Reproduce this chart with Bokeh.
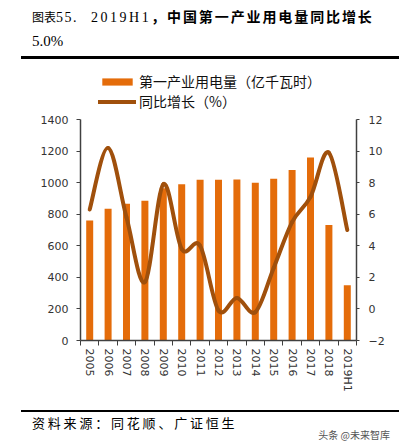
from bokeh.plotting import figure
from bokeh.models import (Range1d, LinearAxis, FixedTicker, Legend, LegendItem, Div)
from bokeh.layouts import column
from bokeh.embed import file_html
from bokeh.resources import INLINE

# ---------------- data ----------------
categories = ["2005", "2006", "2007", "2008", "2009", "2010", "2011", "2012",
              "2013", "2014", "2015", "2016", "2017", "2018", "2019H1"]
consumption = [760, 835, 866, 885, 965, 990, 1018, 1018, 1020, 1000, 1024, 1080, 1160, 732, 350]
growth = [6.3, 10.2, 5.8, 1.7, 7.9, 3.8, 4.0, -0.1, 0.7, -0.2, 2.6, 5.5, 7.1, 9.9, 5.0]
left_ticks = [0, 200, 400, 600, 800, 1000, 1200, 1400]
right_ticks = [-2, 0, 2, 4, 6, 8, 10, 12]
bar_label = "第一产业用电量（亿千瓦时）"
line_label = "同比增长（%）"
title_cn_a = "图表"
title_num_a = "55. "
title_num_b = "2019H1"
title_cn_b = "，中国第一产业用电量同比增长"
title_line2 = "5.0%"
source_text = "资料来源：同花顺、广证恒生"
watermark = "头条 @未来智库"

BAR = "#E46C0A"
LINE = "#A0500C"
AX = "#404040"
CJK = "Noto Sans CJK SC"

xs = list(range(len(categories)))

# layout geometry: axis spans AXIS_PX pixels, frame is taller to host the legend
AXIS_PX = 221
FRAME_PX = 276
left_lo, left_hi = left_ticks[0], left_ticks[-1]
right_lo, right_hi = right_ticks[0], right_ticks[-1]
left_end = left_lo + (left_hi - left_lo) * FRAME_PX / AXIS_PX
right_end = right_lo + (right_hi - right_lo) * FRAME_PX / AXIS_PX

# ---------------- title div ----------------
title_html = f"""
<div style="white-space:nowrap;color:#000;width:378px;">
  <div style="padding-left:11px;padding-top:7px;line-height:18px;height:25px;"><span style="font-family:'{CJK}';font-size:12px;">{title_cn_a}</span><span style="font-family:'Liberation Serif';font-size:14px;letter-spacing:1.5px;">{title_num_a}</span><span style="font-family:'Liberation Serif';font-size:14px;letter-spacing:2.5px;margin-left:8px;">{title_num_b}</span><span style="font-family:'{CJK}';font-weight:bold;font-size:14px;letter-spacing:1.9px;">{title_cn_b}</span></div>
  <div style="padding-left:11px;margin-top:7px;line-height:18px;height:18px;font-family:'Liberation Serif';font-size:15px;">{title_line2}</div>
</div>
"""
title_div = Div(text=title_html, width=378, height=59, margin=(0, 0, 0, 21),
                styles={"border-bottom": "3px solid #000", "box-sizing": "border-box"})

# ---------------- figure ----------------
p = figure(width=399, height=341, output_backend="svg", toolbar_location=None,
           x_range=Range1d(-0.5, 14.5), y_range=Range1d(left_lo, left_end),
           min_border_left=80, min_border_right=43, min_border_top=5, min_border_bottom=60)
p.outline_line_color = None
p.xgrid.visible = False
p.ygrid.visible = False
p.background_fill_color = "white"
p.border_fill_color = "white"

p.extra_y_ranges = {"right": Range1d(right_lo, right_end)}

bars = p.vbar(x=xs, top=consumption, width=0.38, color=BAR, line_color=None)

# smooth curve (Catmull-Rom -> cubic Bezier), drawn through the data points
n = len(growth)
x0, y0, x1, y1, cx0, cy0, cx1, cy1 = [], [], [], [], [], [], [], []
for i in range(n - 1):
    pm = (xs[i - 1], growth[i - 1]) if i > 0 else (xs[i], growth[i])
    pa = (xs[i], growth[i])
    pb = (xs[i + 1], growth[i + 1])
    pn = (xs[i + 2], growth[i + 2]) if i + 2 < n else (xs[i + 1], growth[i + 1])
    x0.append(pa[0]); y0.append(pa[1]); x1.append(pb[0]); y1.append(pb[1])
    cx0.append(pa[0] + (pb[0] - pm[0]) / 6.0); cy0.append(pa[1] + (pb[1] - pm[1]) / 6.0)
    cx1.append(pb[0] - (pn[0] - pa[0]) / 6.0); cy1.append(pb[1] - (pn[1] - pa[1]) / 6.0)
curve = p.bezier(x0=x0, y0=y0, x1=x1, y1=y1, cx0=cx0, cy0=cy0, cx1=cx1, cy1=cy1,
                 y_range_name="right", line_color=LINE, line_width=4, line_cap="round")

# axes
xa = p.xaxis[0]
xa.ticker = FixedTicker(ticks=xs, minor_ticks=[i - 0.5 for i in range(len(categories) + 1)])
xa.major_label_overrides = {i: c for i, c in enumerate(categories)}
xa.major_label_orientation = "vertical"
xa.major_tick_out = 0
xa.major_tick_in = 0
xa.minor_tick_out = 5
xa.minor_tick_in = 0
xa.minor_tick_line_color = AX
xa.axis_line_color = AX
xa.axis_line_width = 1.5
xa.major_label_standoff = 3
xa.major_label_text_font = "DejaVu Sans"
xa.major_label_text_font_size = "11px"
xa.major_label_text_color = "#333333"

ya = p.yaxis[0]
ya.ticker = FixedTicker(ticks=left_ticks)
ya.bounds = (left_lo, left_hi)
ya.minor_tick_line_color = None
ya.major_tick_out = 4
ya.major_tick_in = 0
ya.major_tick_line_color = AX
ya.axis_line_color = AX
ya.axis_line_width = 1.5
ya.major_label_standoff = 8
ya.major_label_text_font = "DejaVu Sans"
ya.major_label_text_font_size = "11px"
ya.major_label_text_color = "#333333"

ra = LinearAxis(y_range_name="right", ticker=FixedTicker(ticks=right_ticks),
                bounds=(right_lo, right_hi))
ra.minor_tick_line_color = None
ra.major_tick_out = 3
ra.major_tick_in = 0
ra.major_tick_line_color = AX
ra.axis_line_color = AX
ra.axis_line_width = 1.5
ra.major_label_standoff = 9
ra.major_label_text_font = "DejaVu Sans"
ra.major_label_text_font_size = "11px"
ra.major_label_text_color = "#333333"
p.add_layout(ra, "right")

legend = Legend(items=[LegendItem(label=bar_label, renderers=[bars]),
                       LegendItem(label=line_label, renderers=[curve])],
                location=(18, 229), orientation="vertical",
                glyph_width=38, glyph_height=9, label_height=17, spacing=-2,
                label_standoff=3, padding=0, margin=0,
                border_line_color=None, background_fill_alpha=0,
                label_text_font=CJK, label_text_font_size="14px",
                label_text_line_height=1.0,
                label_text_color="#111111")
p.add_layout(legend, "center")

# ---------------- source div ----------------
source_html = f"""
<div style="white-space:nowrap;width:378px;">
  <div style="padding-left:11px;padding-top:2px;line-height:17px;height:19px;font-family:'{CJK}';font-size:13px;letter-spacing:2.8px;color:#000;">{source_text}</div>
  <div style="text-align:right;padding-right:9px;margin-top:-2px;line-height:12px;height:12px;font-family:'{CJK}';font-size:10px;color:#555;">{watermark}</div>
</div>
"""
source_div = Div(text=source_html, width=378, height=36, margin=(10, 0, 0, 21),
                 styles={"border-top": "2px solid #000", "box-sizing": "border-box"})

layout = column(title_div, p, source_div, spacing=0)
open("out.html", "w").write(file_html(layout, INLINE))
